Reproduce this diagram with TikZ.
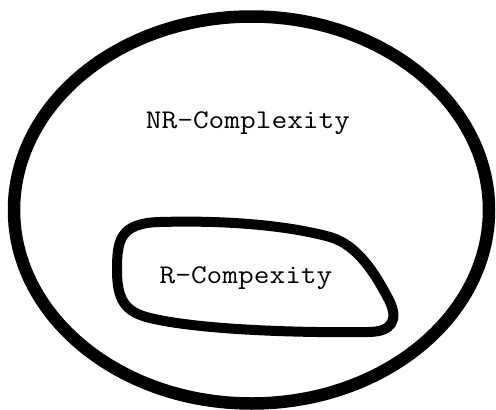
\documentclass[tikz,border=0pt]{standalone}
\usepackage{graphicx}
\tikzset{
  setline/.style={line width=12.5pt, draw=black},
  blobline/.style={line width=10pt, draw=black, line join=round},
  lbl/.style={inner sep=0pt, font=\fontsize{27}{30}\ttfamily}
}
\begin{document}
\begin{tikzpicture}[x=1pt,y=-1pt]
\useasboundingbox (0,0) rectangle (496,410);
\draw[setline] (251.5,210) ellipse [x radius=237.5, y radius=193.5];
\draw[blobline] (160,222)
  .. controls (230,220) and (290,226) .. (330,237)
  .. controls (358,245) and (376,275) .. (389,300)
  .. controls (399,320) and (392,332) .. (368,332)
  .. controls (300,333) and (200,330) .. (150,318)
  .. controls (125,312) and (117,300) .. (117,270)
  .. controls (117,240) and (120,223) .. (160,222) -- cycle;
\node[lbl, anchor=base] (nr) at (248,128) {\scalebox{1.13}[1]{NR-Complexity}};
\node[lbl, anchor=base] (r) at (246,283) {\scalebox{1.13}[1]{R-Compexity}};
\end{tikzpicture}
\end{document}
